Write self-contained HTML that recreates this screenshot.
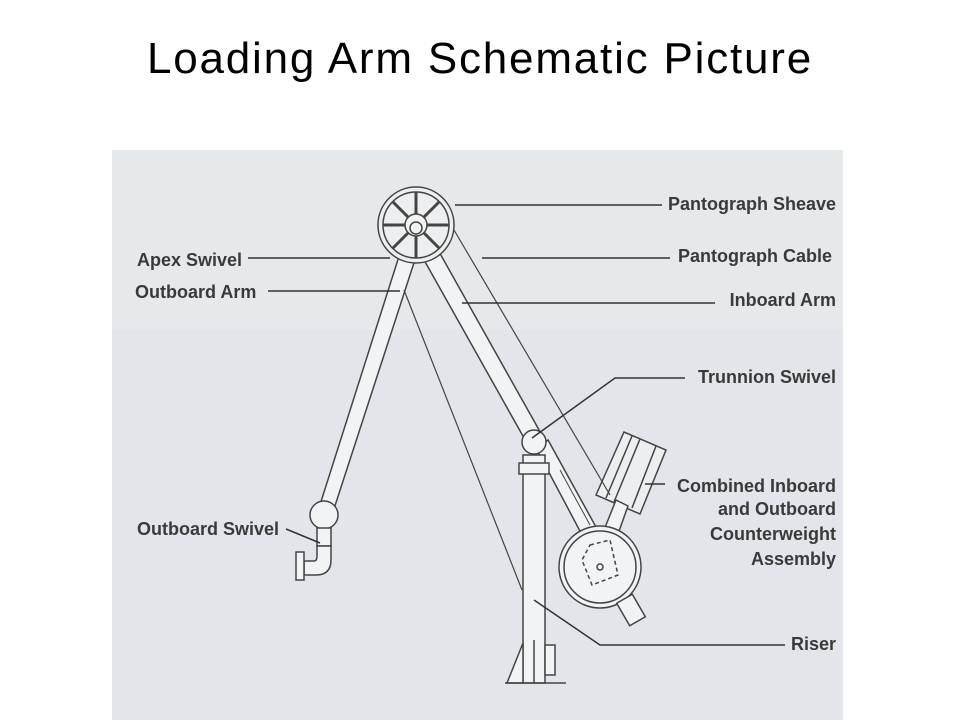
<!DOCTYPE html>
<html><head><style>
body{margin:0;width:960px;height:720px;background:#fff;overflow:hidden;}
.t{position:absolute;left:0;width:960px;top:34px;text-align:center;font:44px "Liberation Sans",sans-serif;letter-spacing:1.8px;color:#000;}
svg{position:absolute;left:0;top:0;}
text{font-family:"Liberation Sans",sans-serif;font-size:18px;font-weight:bold;fill:#3a3a3a;}
</style></head><body>
<div class="t">Loading Arm Schematic Picture</div>
<svg width="960" height="720">
<rect x="112" y="150" width="731" height="570" fill="#e2e6ea"/>
<rect x="112" y="150" width="731" height="180" fill="#e6e9ec"/>
<g stroke="#444" stroke-width="1.5" fill="#f2f3f4">
<polygon points="408,228 424,232 332,515 318,511"/>
<polygon points="410,235 424,225 543,437 528,445"/>
<polygon points="537,450 548,440 612,556 598,565"/>
<polygon points="596,495 624,432 666,450 640,514" fill="#eceeef"/>
<line x1="606" y1="498" x2="632" y2="436"/><line x1="614" y1="502" x2="640" y2="439"/><line x1="632" y1="508" x2="656" y2="446"/>
<polygon points="604,530 616,500 628,506 618,534"/>
<circle cx="600" cy="567" r="41"/><circle cx="600" cy="567" r="36"/>
<rect x="622" y="597" width="18" height="26" transform="rotate(-30 631 610)"/>
<polygon points="590,545 610,540 618,575 592,585 582,560" fill="none" stroke-dasharray="4,3"/>
<circle cx="600" cy="567" r="3"/>
<rect x="523" y="455" width="22" height="228"/>
<rect x="519" y="463" width="30" height="11"/>
<polygon points="523,643 523,683 507,683"/>
<rect x="545" y="645" width="10" height="30"/>
<line x1="505" y1="683" x2="566" y2="683"/>
<line x1="534" y1="640" x2="534" y2="683"/>
<circle cx="534" cy="442" r="12"/>
<circle cx="324" cy="515" r="14"/>
<rect x="317" y="528" width="14" height="18"/>
<path d="M317,546 L331,546 L331,560 Q331,575 316,575 L304,575 L304,561 L314,561 Q317,561 317,556 Z"/>
<rect x="296" y="552" width="8" height="28"/>
<line x1="404" y1="290" x2="522" y2="590" fill="none" stroke-width="1.2"/>
<line x1="454" y1="230" x2="610" y2="495" fill="none" stroke-width="1.2"/>
<line x1="560" y1="470" x2="590" y2="525" fill="none" stroke-width="1"/>
<circle cx="416" cy="225" r="38" fill="#eceeef"/><circle cx="416" cy="225" r="33" fill="none"/>
<g stroke-width="3"><line x1="383" y1="225" x2="449" y2="225"/><line x1="416" y1="192" x2="416" y2="258"/><line x1="393" y1="202" x2="439" y2="248"/><line x1="439" y1="202" x2="393" y2="248"/></g>
<circle cx="416" cy="225" r="11"/><circle cx="416" cy="228" r="6"/>
</g>
<g stroke="#333" stroke-width="1.5">
<line x1="455" y1="205" x2="662" y2="205"/>
<line x1="248" y1="258" x2="390" y2="258"/>
<line x1="482" y1="258" x2="670" y2="258"/>
<line x1="268" y1="291" x2="400" y2="291"/>
<line x1="462" y1="303" x2="715" y2="303"/>
<polyline points="685,378 615,378 532,438" fill="none"/>
<line x1="645" y1="484" x2="665" y2="484"/>
<line x1="286" y1="529" x2="320" y2="543"/>
<polyline points="534,600 600,645 785,645" fill="none"/>
</g>
<g text-anchor="end">
<text x="836" y="210">Pantograph Sheave</text>
<text x="832" y="262">Pantograph Cable</text>
<text x="836" y="306">Inboard Arm</text>
<text x="836" y="383">Trunnion Swivel</text>
<text x="836" y="492">Combined Inboard</text>
<text x="836" y="515">and Outboard</text>
<text x="836" y="540">Counterweight</text>
<text x="836" y="565">Assembly</text>
<text x="836" y="650">Riser</text>
</g>
<text x="137" y="266">Apex Swivel</text>
<text x="135" y="298">Outboard Arm</text>
<text x="137" y="535">Outboard Swivel</text>
</svg>
</body></html>
